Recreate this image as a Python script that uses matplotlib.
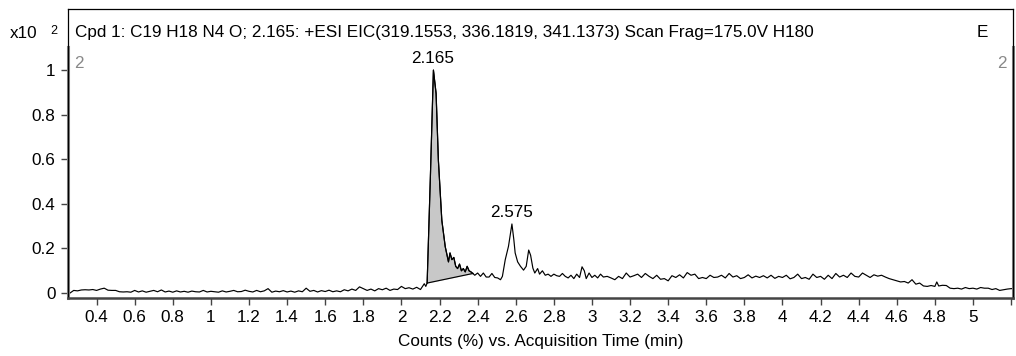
import matplotlib
matplotlib.use("Agg")
import matplotlib.pyplot as plt
import numpy as np

plt.rcParams['font.family'] = ['Liberation Sans', 'DejaVu Sans']

# retention time (min) and counts (x10^2 %)
time = [0.26, 0.28, 0.30, 0.32, 0.34, 0.36, 0.38, 0.40, 0.42, 0.44, 0.46, 0.48, 0.50, 0.52, 0.54, 0.56,
        0.58, 0.60, 0.62, 0.64, 0.66, 0.68, 0.70, 0.72, 0.74, 0.76, 0.78, 0.80, 0.82, 0.84, 0.86, 0.88,
        0.90, 0.92, 0.94, 0.96, 0.98, 1.00, 1.02, 1.04, 1.06, 1.08, 1.10, 1.12, 1.14, 1.16, 1.18, 1.20,
        1.22, 1.24, 1.26, 1.28, 1.30, 1.32, 1.34, 1.36, 1.38, 1.40, 1.42, 1.44, 1.46, 1.48, 1.50, 1.52,
        1.54, 1.56, 1.58, 1.60, 1.62, 1.64, 1.66, 1.68, 1.70, 1.72, 1.74, 1.76, 1.78, 1.80, 1.82, 1.84,
        1.86, 1.88, 1.90, 1.92, 1.94, 1.96, 1.98, 2.00, 2.02, 2.04, 2.06, 2.08, 2.10, 2.12, 2.128, 2.135,
        2.152, 2.168, 2.182, 2.194, 2.212, 2.230, 2.247, 2.255, 2.265, 2.275, 2.285, 2.295, 2.305, 2.315,
        2.325, 2.335, 2.345, 2.355, 2.365, 2.375, 2.385, 2.400, 2.415, 2.430, 2.445, 2.460, 2.475, 2.490,
        2.505, 2.520, 2.530, 2.545, 2.562, 2.580, 2.590, 2.597, 2.610, 2.625, 2.641, 2.655, 2.668, 2.678,
        2.690, 2.700, 2.715, 2.725, 2.740, 2.755, 2.770, 2.785, 2.800, 2.815, 2.830, 2.845, 2.860, 2.875,
        2.890, 2.905, 2.920, 2.935, 2.948, 2.960, 2.970, 2.985, 3.000, 3.015, 3.030, 3.045, 3.060, 3.08,
        3.10, 3.12, 3.14, 3.16, 3.18, 3.20, 3.22, 3.24, 3.26, 3.28, 3.30, 3.32, 3.34, 3.36, 3.38, 3.40,
        3.42, 3.44, 3.46, 3.48, 3.50, 3.52, 3.54, 3.56, 3.58, 3.60, 3.62, 3.64, 3.66, 3.68, 3.70, 3.72,
        3.74, 3.76, 3.78, 3.80, 3.82, 3.84, 3.86, 3.88, 3.90, 3.92, 3.94, 3.96, 3.98, 4.00, 4.02, 4.04,
        4.06, 4.08, 4.10, 4.12, 4.14, 4.16, 4.18, 4.20, 4.22, 4.24, 4.26, 4.28, 4.30, 4.32, 4.34, 4.36,
        4.38, 4.40, 4.42, 4.44, 4.46, 4.48, 4.50, 4.52, 4.54, 4.56, 4.58, 4.60, 4.62, 4.64, 4.66, 4.68,
        4.70, 4.72, 4.74, 4.76, 4.78, 4.80, 4.81, 4.82, 4.84, 4.86, 4.88, 4.90, 4.92, 4.94, 4.96, 4.98,
        5.00, 5.02, 5.04, 5.06, 5.08, 5.10, 5.12, 5.14, 5.16, 5.18, 5.20, 5.21]
counts = [0.000, 0.012, 0.010, 0.014, 0.015, 0.014, 0.016, 0.012, 0.018, 0.022, 0.013, 0.012, 0.012, 0.006, 0.005, 0.006,
          0.004, 0.012, 0.005, 0.010, 0.004, 0.008, 0.012, 0.006, 0.014, 0.005, 0.009, 0.004, 0.010, 0.005, 0.008, 0.004,
          0.009, 0.006, 0.005, 0.012, 0.005, 0.008, 0.006, 0.004, 0.010, 0.005, 0.008, 0.012, 0.006, 0.007, 0.013, 0.008,
          0.005, 0.012, 0.006, 0.010, 0.020, 0.004, 0.009, 0.006, 0.011, 0.005, 0.009, 0.004, 0.010, 0.006, 0.022, 0.008,
          0.012, 0.005, 0.011, 0.007, 0.013, 0.006, 0.010, 0.006, 0.015, 0.010, 0.018, 0.012, 0.028, 0.020, 0.012, 0.018,
          0.010, 0.020, 0.015, 0.022, 0.012, 0.018, 0.016, 0.030, 0.020, 0.024, 0.018, 0.026, 0.016, 0.042, 0.030, 0.045,
          0.520, 1.000, 0.895, 0.596, 0.327, 0.208, 0.140, 0.180, 0.150, 0.160, 0.120, 0.110, 0.130, 0.100,
          0.110, 0.095, 0.120, 0.100, 0.095, 0.088, 0.080, 0.090, 0.075, 0.090, 0.072, 0.072, 0.088, 0.070,
          0.068, 0.060, 0.075, 0.150, 0.210, 0.310, 0.240, 0.180, 0.140, 0.120, 0.103, 0.120, 0.193, 0.170,
          0.112, 0.090, 0.110, 0.085, 0.100, 0.080, 0.085, 0.075, 0.085, 0.078, 0.075, 0.088, 0.075, 0.068,
          0.080, 0.065, 0.085, 0.070, 0.118, 0.100, 0.065, 0.090, 0.070, 0.080, 0.068, 0.085, 0.072, 0.075,
          0.068, 0.060, 0.075, 0.065, 0.090, 0.072, 0.078, 0.085, 0.070, 0.088, 0.075, 0.065, 0.080, 0.062, 0.065, 0.055,
          0.078, 0.070, 0.082, 0.068, 0.092, 0.080, 0.085, 0.065, 0.070, 0.065, 0.080, 0.070, 0.072, 0.080, 0.068, 0.088,
          0.072, 0.078, 0.065, 0.070, 0.082, 0.068, 0.076, 0.070, 0.078, 0.068, 0.080, 0.066, 0.075, 0.070, 0.080, 0.064,
          0.070, 0.085, 0.065, 0.070, 0.062, 0.085, 0.070, 0.075, 0.062, 0.080, 0.065, 0.088, 0.072, 0.080, 0.070, 0.090,
          0.075, 0.072, 0.090, 0.080, 0.070, 0.082, 0.076, 0.080, 0.072, 0.065, 0.060, 0.055, 0.050, 0.052, 0.045, 0.060,
          0.040, 0.045, 0.032, 0.030, 0.034, 0.030, 0.050, 0.032, 0.035, 0.034, 0.022, 0.020, 0.022, 0.018, 0.025, 0.020,
          0.022, 0.018, 0.025, 0.022, 0.022, 0.016, 0.020, 0.012, 0.015, 0.018, 0.020, 0.020]

# integrated peak: start/end of baseline
peak_start = 2.135
peak_end = 2.375
peak_labels = ["2.165", "2.575"]
peak_label_pos = [(2.165, 1.054), (2.58, 0.363)]

xticks = [0.4, 0.6, 0.8, 1, 1.2, 1.4, 1.6, 1.8, 2, 2.2, 2.4, 2.6, 2.8, 3, 3.2, 3.4, 3.6, 3.8,
          4, 4.2, 4.4, 4.6, 4.8, 5, 5.2]
xticklabels = ["0.4", "0.6", "0.8", "1", "1.2", "1.4", "1.6", "1.8", "2", "2.2", "2.4", "2.6", "2.8",
               "3", "3.2", "3.4", "3.6", "3.8", "4", "4.2", "4.4", "4.6", "4.8", "5", ""]
yticks = [0, 0.2, 0.4, 0.6, 0.8, 1]
yticklabels = ["0", "0.2", "0.4", "0.6", "0.8", "1"]

FS = 12.3

t = np.array(time)
c = np.array(counts)

fig = plt.figure(figsize=(10.16, 3.56), dpi=100)
ax = fig.add_axes([68/1016, 1-298/356, (1013-68)/1016, (298-9)/356])

ax.plot(t, c, color='black', lw=0.85)

# shaded integrated area
m = (t >= peak_start) & (t <= peak_end)
ys = c[m]
base = np.interp(t[m], [peak_start, peak_end], [ys[0], ys[-1]])
ax.fill_between(t[m], base, ys, color='#c8c8c8', lw=0)
ax.plot([peak_start, peak_end], [ys[0], ys[-1]], color='black', lw=0.85)
ax.plot(t[m], ys, color='black', lw=0.85)

for lab, (px, py) in zip(peak_labels, peak_label_pos):
    ax.text(px, py, lab, ha='center', va='center', fontsize=FS)

ax.set_xlim(0.25, 5.21)
ax.set_ylim(-0.022, 1.274)
ax.set_xticks(xticks)
ax.set_xticklabels(xticklabels)
ax.set_yticks(yticks)
ax.set_yticklabels(yticklabels)
ax.tick_params(direction='out', length=5, width=1, colors='#444444', labelcolor='black',
               labelsize=FS, pad=4)

for s in ['top', 'left', 'right', 'bottom']:
    ax.spines[s].set_color('black')
    ax.spines[s].set_linewidth(0.9)
ax.spines['bottom'].set_color('#444444')
ax.spines['bottom'].set_linewidth(1.8)
# thick grey axis segments on the sides
ax.plot([0, 0], [0, 0.87], transform=ax.transAxes, color='#888888', lw=2.2, clip_on=False)
ax.plot([1, 1], [0, 0.87], transform=ax.transAxes, color='#888888', lw=2.2, clip_on=False)

ax.text(7/945, 0.92, "Cpd 1: C19 H18 N4 O; 2.165: +ESI EIC(319.1553, 336.1819, 341.1373) Scan Frag=175.0V H180",
        transform=ax.transAxes, ha='left', va='center', fontsize=FS)
ax.text(0.968, 0.92, "E", transform=ax.transAxes, ha='center', va='center', fontsize=FS)
ax.text(0.006, 0.81, "2", transform=ax.transAxes, ha='left', va='center', fontsize=FS, color='#888888')
ax.text(0.993, 0.81, "2", transform=ax.transAxes, ha='right', va='center', fontsize=FS, color='#888888')

fig.text(10/1016, 1-33/356, "x10", ha='left', va='center', fontsize=FS)
fig.text(54/1016, 1-31/356, "2", ha='center', va='center', fontsize=9)

ax.set_xlabel("Counts (%) vs. Acquisition Time (min)", fontsize=FS, labelpad=6)

fig.savefig("out.png", dpi=100)
